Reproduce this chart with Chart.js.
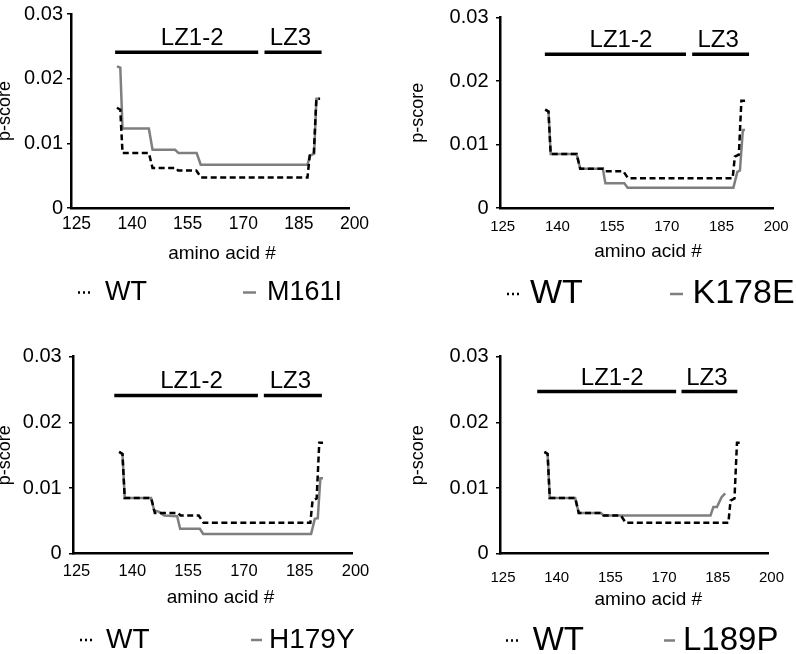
<!DOCTYPE html>
<html>
<head>
<meta charset="utf-8">
<script src="https://cdn.jsdelivr.net/npm/chart.js@4.4.0/dist/chart.umd.min.js"></script>
<style>
  html, body { margin: 0; padding: 0; background: #fff; }
  body { width: 796px; height: 654px; position: relative; overflow: hidden; }
  canvas { position: absolute; }
</style>
</head>
<body>
<canvas id="c1"></canvas>
<canvas id="c2"></canvas>
<canvas id="c3"></canvas>
<canvas id="c4"></canvas>
<script>
// p-score per amino acid, breakpoints
const wtX = [137.4, 138.3, 138.9, 146.0, 147.0, 153.3, 153.9, 158.8, 160.1, 188.8, 189.4, 190.5, 191.2, 192.2];
const wtY = [0.0155, 0.0152, 0.0085, 0.0085, 0.0062, 0.0062, 0.0058, 0.0058, 0.0047, 0.0047, 0.0081, 0.0084, 0.0169, 0.0169];

const m161iX = [137.4, 138.3, 138.9, 146.0, 147.0, 153.1, 154.0, 158.9, 160.0, 188.8, 189.5, 190.6, 191.2, 192.0];
const m161iY = [0.0219, 0.0217, 0.0123, 0.0123, 0.0090, 0.0090, 0.0085, 0.0085, 0.0067, 0.0067, 0.0081, 0.0084, 0.0169, 0.0169];

const k178eX = [137.4, 138.3, 138.9, 146.0, 147.0, 153.2, 153.9, 159.1, 160.0, 189.0, 190.1, 190.8, 191.6, 192.2];
const k178eY = [0.0155, 0.0152, 0.0085, 0.0085, 0.0062, 0.0062, 0.0039, 0.0039, 0.0032, 0.0032, 0.0057, 0.0059, 0.0123, 0.0123];

const h179yX = [137.4, 138.3, 138.9, 146.0, 146.8, 148.0, 149.5, 153.0, 153.8, 159.1, 160.0, 189.0, 190.0, 190.8, 191.5, 192.2];
const h179yY = [0.0155, 0.0152, 0.0085, 0.0085, 0.0066, 0.0064, 0.0058, 0.0057, 0.0038, 0.0038, 0.0030, 0.0030, 0.0053, 0.0054, 0.0115, 0.0115];

const l189pX = [137.4, 138.3, 138.9, 146.0, 147.0, 153.2, 154.0, 183.8, 184.6, 185.6, 186.9, 187.9];
const l189pY = [0.0155, 0.0152, 0.0085, 0.0085, 0.0062, 0.0062, 0.0058, 0.0058, 0.0071, 0.0071, 0.0086, 0.0092];

const mutantNames = ['M161I', 'K178E', 'H179Y', 'L189P'];
const mutantX = [m161iX, k178eX, h179yX, l189pX];
const mutantY = [m161iY, k178eY, h179yY, l189pY];

// leucine zipper domains, one entry per panel
const domainNames = ['LZ1-2', 'LZ3'];
const lz12Start = [136.9, 137.3, 136.1, 135.4];
const lz12End = [175.5, 176.0, 174.7, 174.2];
const lz3Start = [177.2, 177.7, 176.3, 175.7];
const lz3End = [192.6, 193.3, 191.9, 191.3];
const domainY = [0.0241, 0.0242, 0.0241, 0.0247];

const xTicks = [125, 140, 155, 170, 185, 200];
const yTicks = [0, 0.01, 0.02, 0.03];

const FONT = 'Arial, "Liberation Sans", sans-serif';
Chart.defaults.font.family = FONT;
Chart.defaults.color = '#000';

// where each panel sits on the page (page px)
const layouts = [
  { left: -6, top: 0, w: 404, h: 327, area: { l: 77, r: 355, t: 11, b: 208 }, yPad: 4,
    xSize: 17.5, xPad: 6, xOff: 5.5, titleX: 222, titleBase: 259,
    legSize: 27, legY: 292.5, legWT: [78, 90, 105], legMut: [243, 256, 267] },
  { left: 407, top: 0, w: 389, h: 327, area: { l: 93, r: 371, t: 12, b: 208 }, yPad: 7.5,
    xSize: 15, xPad: 10, xOff: 2.7, titleX: 648, titleBase: 256.5,
    legSize: 34, legY: 294, legWT: [507, 519, 530], legMut: [670, 683, 692.5] },
  { left: -6, top: 327, w: 404, h: 327, area: { l: 79, r: 358, t: 29.7, b: 226.7 }, yPad: 7.3,
    xSize: 16.5, xPad: 7.7, xOff: 3.5, titleX: 220.5, titleBase: 603,
    legSize: 28, legY: 640, legWT: [80, 92, 106], legMut: [251, 262, 269] },
  { left: 407, top: 327, w: 389, h: 327, area: { l: 93, r: 372, t: 29.7, b: 226.7 }, yPad: 7.5,
    xSize: 15, xPad: 15, xOff: 3, titleX: 648.3, titleBase: 605,
    legSize: 33, legY: 640.5, legWT: [506, 518, 532.7], legMut: [664, 675, 683] }
];

function pts(xs, ys) {
  return xs.map((x, i) => ({ x: x, y: ys[i] }));
}

// domain labels, x axis title and the two-item legend
const panelText = {
  id: 'panelText',
  afterDraw(chart, args, opts) {
    const L = opts.layout;
    const { ctx, scales: { x, y } } = chart;
    ctx.save();
    ctx.fillStyle = '#000';

    ctx.font = '24px ' + FONT;
    ctx.textAlign = 'center';
    ctx.textBaseline = 'alphabetic';
    const shifts = [5.5, -2.5];
    chart.data.datasets.slice(2).forEach((d, i) => {
      const px = (x.getPixelForValue(d.data[0].x) + x.getPixelForValue(d.data[1].x)) / 2 + shifts[i];
      ctx.fillText(d.label, px, y.getPixelForValue(d.data[0].y) - 7);
    });

    ctx.font = '19px ' + FONT;
    ctx.fillText('amino acid #', L.titleX - L.left, L.titleBase - L.top);

    const [wt, mut] = chart.data.datasets;
    const ly = L.legY - L.top;
    ctx.font = L.legSize + 'px ' + FONT;
    ctx.textAlign = 'left';
    ctx.textBaseline = 'middle';
    [[wt, L.legWT, [2, 3]], [mut, L.legMut, []]].forEach(([ds, p, dash]) => {
      ctx.beginPath();
      ctx.strokeStyle = ds.borderColor;
      ctx.lineWidth = 2.5;
      ctx.setLineDash(dash);
      ctx.moveTo(p[0] - L.left, ly);
      ctx.lineTo(p[1] - L.left, ly);
      ctx.stroke();
      ctx.setLineDash([]);
      ctx.fillText(ds.label, p[2] - L.left, ly);
    });
    ctx.restore();
  }
};

layouts.forEach((L, i) => {
  const canvas = document.getElementById('c' + (i + 1));
  canvas.width = L.w;
  canvas.height = L.h;
  canvas.style.left = L.left + 'px';
  canvas.style.top = L.top + 'px';

  new Chart(canvas, {
    type: 'line',
    data: {
      datasets: [
        { label: 'WT', data: pts(wtX, wtY), borderColor: '#000', borderWidth: 2.5,
          borderDash: [6, 3.5], pointRadius: 0, tension: 0 },
        { label: mutantNames[i], data: pts(mutantX[i], mutantY[i]), borderColor: '#7f7f7f',
          borderWidth: 2.5, pointRadius: 0, tension: 0 },
        { label: domainNames[0], data: [{ x: lz12Start[i], y: domainY[i] }, { x: lz12End[i], y: domainY[i] }],
          borderColor: '#000', borderWidth: 3.5, pointRadius: 0 },
        { label: domainNames[1], data: [{ x: lz3Start[i], y: domainY[i] }, { x: lz3End[i], y: domainY[i] }],
          borderColor: '#000', borderWidth: 3.5, pointRadius: 0 }
      ]
    },
    options: {
      responsive: false,
      animation: false,
      devicePixelRatio: 1,
      layout: { padding: { left: 0, top: L.area.t, right: L.w - L.area.r, bottom: 0 } },
      plugins: {
        legend: { display: false },
        tooltip: { enabled: false },
        panelText: { layout: L }
      },
      scales: {
        x: {
          type: 'linear', min: 125, max: 200,
          afterBuildTicks: s => { s.ticks = xTicks.map(v => ({ value: v })); },
          afterFit: s => { s.height = L.h - L.area.b; },
          grid: { display: true, drawOnChartArea: false, drawTicks: false, color: '#000' },
          border: { color: '#000', width: 2.5 },
          ticks: { font: { size: L.xSize }, color: '#000', padding: L.xPad, labelOffset: L.xOff,
                   maxRotation: 0, autoSkip: false }
        },
        y: {
          type: 'linear', min: 0, max: 0.03,
          afterBuildTicks: s => { s.ticks = yTicks.map(v => ({ value: v })); },
          afterFit: s => { s.width = L.area.l; },
          grid: { display: true, drawOnChartArea: false, tickLength: 4, lineWidth: 1.5, color: '#000' },
          border: { color: '#000', width: 2.5 },
          ticks: { font: { size: 20, lineHeight: 1 }, color: '#000', padding: L.yPad,
                   callback: v => (v === 0 ? '0' : v.toFixed(2)) },
          title: { display: true, text: 'p-score', font: { size: 18 }, color: '#000', padding: { top: 0, bottom: 0 } }
        }
      }
    },
    plugins: [panelText]
  });
});
</script>
</body>
</html>
